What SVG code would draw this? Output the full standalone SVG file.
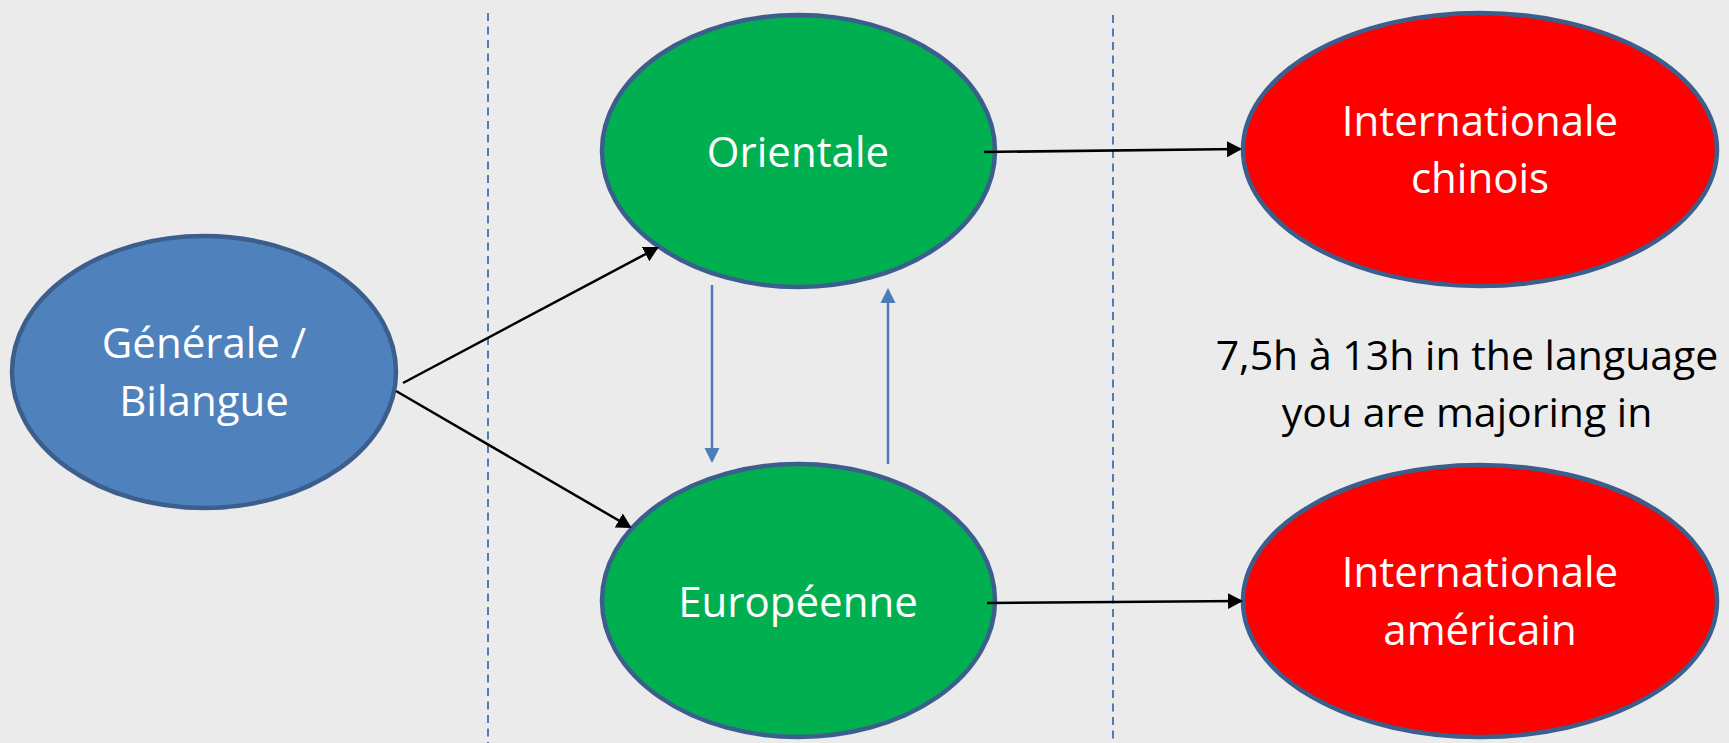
<svg xmlns="http://www.w3.org/2000/svg" width="1729" height="743" viewBox="0 0 1729 743">
<defs>
<style>
.node ellipse{stroke:#3B5E8C;stroke-width:4.5}
.lbl{font-family:"Open Sans","Liberation Sans",sans-serif;font-size:42px;fill:#fff;text-anchor:middle}
.note{font-family:"Open Sans","Liberation Sans",sans-serif;font-size:41px;fill:#000;text-anchor:middle}
.blk{stroke:#000;stroke-width:2.5;fill:none}
.blu{stroke:#4A7EBB;stroke-width:2.5;fill:none}
.dash{stroke:#4A7EBB;stroke-width:2;stroke-dasharray:8 5.5;fill:none}
</style>
<marker id="ab" markerUnits="userSpaceOnUse" markerWidth="16" markerHeight="17" refX="13" refY="8" orient="auto" viewBox="0 0 16 16">
<path d="M0,0 L15,8 L0,16 z" fill="#000"/>
</marker>
<marker id="au" markerUnits="userSpaceOnUse" markerWidth="16" markerHeight="16" refX="13" refY="7.5" orient="auto" viewBox="0 0 16 15">
<path d="M0,0 L15,7.5 L0,15 z" fill="#4A7EBB"/>
</marker>
</defs>
<rect width="1729" height="743" fill="#EBEBEB"/>
<g id="dividers">
<line class="dash" x1="488" y1="13" x2="488" y2="743"/>
<line class="dash" x1="1113" y1="15" x2="1113" y2="743"/>
</g>
<g id="generale" class="node">
<ellipse cx="204" cy="372" rx="192" ry="136" fill="#4F81BD"/>
<text class="lbl" x="204" y="358">Générale /</text>
<text class="lbl" x="204" y="416">Bilangue</text>
</g>
<g id="orientale" class="node">
<ellipse cx="798.5" cy="151" rx="196.5" ry="136" fill="#00B050"/>
<text class="lbl" x="798" y="167">Orientale</text>
</g>
<g id="europeenne" class="node">
<ellipse cx="798.5" cy="600.5" rx="196.5" ry="136.5" fill="#00B050"/>
<text class="lbl" x="798" y="617">Européenne</text>
</g>
<g id="intl-chinois" class="node">
<ellipse cx="1480" cy="149.5" rx="237" ry="136.5" fill="#FF0000"/>
<text class="lbl" x="1480" y="136">Internationale</text>
<text class="lbl" x="1480" y="193">chinois</text>
</g>
<g id="intl-americain" class="node">
<ellipse cx="1480" cy="601" rx="237" ry="136" fill="#FF0000"/>
<text class="lbl" x="1480" y="587">Internationale</text>
<text class="lbl" x="1480" y="645">américain</text>
</g>
<g id="note">
<text class="note" x="1467" y="370">7,5h à 13h in the language</text>
<text class="note" x="1467" y="427">you are majoring in</text>
</g>
<g id="connectors">
<line class="blk" x1="403" y1="383" x2="657" y2="248" marker-end="url(#ab)"/>
<line class="blk" x1="396" y1="391" x2="630" y2="527" marker-end="url(#ab)"/>
<line class="blk" x1="984" y1="152" x2="1240" y2="149" marker-end="url(#ab)"/>
<line class="blk" x1="987" y1="603" x2="1241" y2="601" marker-end="url(#ab)"/>
<line class="blu" x1="712" y1="285" x2="712" y2="461" marker-end="url(#au)"/>
<line class="blu" x1="888" y1="464" x2="888" y2="290" marker-end="url(#au)"/>
</g>
</svg>
